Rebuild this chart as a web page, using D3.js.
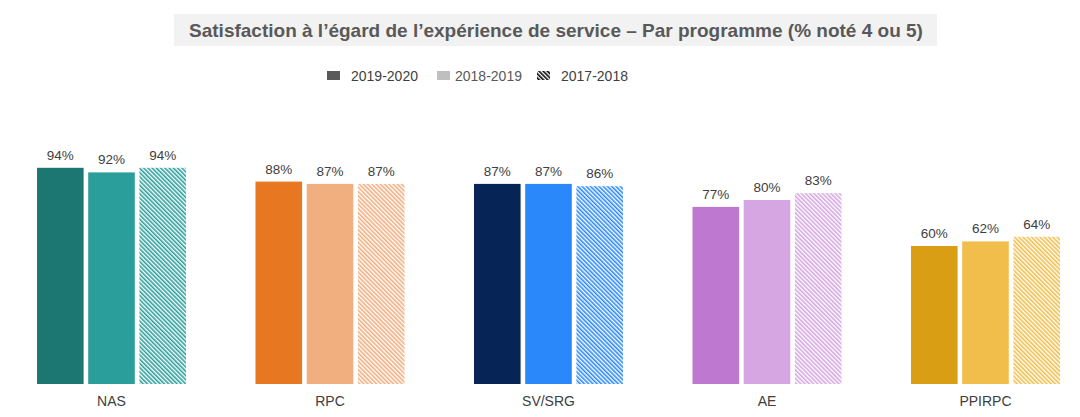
<!DOCTYPE html>
<html><head><meta charset="utf-8">
<script src="https://cdn.jsdelivr.net/npm/d3@7"></script>
<style>body{margin:0;background:#fff;}svg{display:block;font-family:"Liberation Sans",Arial,sans-serif;}</style>
</head><body>
<svg id="c" width="1080" height="417"></svg>
<script>
const categories = ["NAS", "RPC", "SV/SRG", "AE", "PPIRPC"];
const years = ["2019-2020", "2018-2019", "2017-2018"];
const v2019_2020 = [94, 88, 87, 77, 60];
const v2018_2019 = [92, 87, 87, 80, 62];
const v2017_2018 = [94, 87, 86, 83, 64];
const darkColors = ["#1c7773", "#e87722", "#062556", "#bf78cf", "#d99e14"];
const lightColors = ["#2a9e9a", "#f1ae7f", "#2b88fb", "#d5a6e2", "#f1be4b"];
const title = "Satisfaction à l’égard de l’expérience de service – Par programme (% noté 4 ou 5)";

const svg = d3.select("#c");
const series = [v2019_2020, v2018_2019, v2017_2018];

const x0 = d3.scaleBand().domain(categories).range([37, 1060]).paddingInner(0.318).paddingOuter(0);
const x1 = d3.scaleBand().domain(years).range([0, x0.bandwidth()]).paddingInner(0.09);
const y = d3.scaleLinear().domain([0, 100]).range([384, 154]);

const defs = svg.append("defs");
function hatch(id, color) {
  const p = defs.append("pattern").attr("id", id).attr("patternUnits", "userSpaceOnUse")
    .attr("width", 3).attr("height", 3).attr("patternTransform", "rotate(-45)");
  p.append("rect").attr("width", 3).attr("height", 3).attr("fill", "#fff");
  p.append("line").attr("x1", 0.8).attr("x2", 0.8).attr("y1", 0).attr("y2", 3)
    .attr("stroke", color).attr("stroke-width", 1.6);
}
categories.forEach((c, i) => hatch("h" + i, lightColors[i]));
hatch("hl", "#000");

// title
svg.append("rect").attr("x", 174).attr("y", 14).attr("width", 763).attr("height", 32).attr("fill", "#f2f2f2");
svg.append("text").attr("x", 556).attr("y", 37).attr("text-anchor", "middle")
  .attr("font-size", 19).attr("font-weight", "bold").attr("fill", "#595959").text(title);

// legend
const legendItems = [
  {label: years[0], fill: "#595959", tc: "#404040", x: 327, tx: 351},
  {label: years[1], fill: "#bfbfbf", tc: "#595959", x: 437, tx: 455},
  {label: years[2], fill: "url(#hl)", tc: "#404040", x: 537, tx: 561}
];
legendItems.forEach(d => {
  svg.append("rect").attr("x", d.x).attr("y", 71).attr("width", 13).attr("height", 9).attr("fill", d.fill);
  svg.append("text").attr("x", d.tx).attr("y", 80.5).attr("font-size", 14).attr("fill", d.tc).text(d.label);
});

// bars
const g = svg.append("g");
categories.forEach((c, i) => {
  series.forEach((s, j) => {
    const fill = j === 0 ? darkColors[i] : (j === 1 ? lightColors[i] : `url(#h${i})`);
    const bx = x0(c) + x1(years[j]);
    g.append("rect").attr("x", bx).attr("y", y(s[i])).attr("width", x1.bandwidth())
      .attr("height", y(0) - y(s[i])).attr("fill", fill);
    g.append("text").attr("x", bx + x1.bandwidth() / 2).attr("y", y(s[i]) - 8)
      .attr("text-anchor", "middle").attr("font-size", 13.5).attr("fill", "#404040").text(s[i] + "%");
  });
});

// x axis labels
const ax = svg.append("g").attr("transform", "translate(0,384)")
  .call(d3.axisBottom(x0).tickSize(0).tickPadding(12.5));
ax.select(".domain").remove();
ax.selectAll("text").attr("font-size", 14).attr("fill", "#404040").attr("font-family", "Liberation Sans, Arial, sans-serif");
</script>
</body></html>
